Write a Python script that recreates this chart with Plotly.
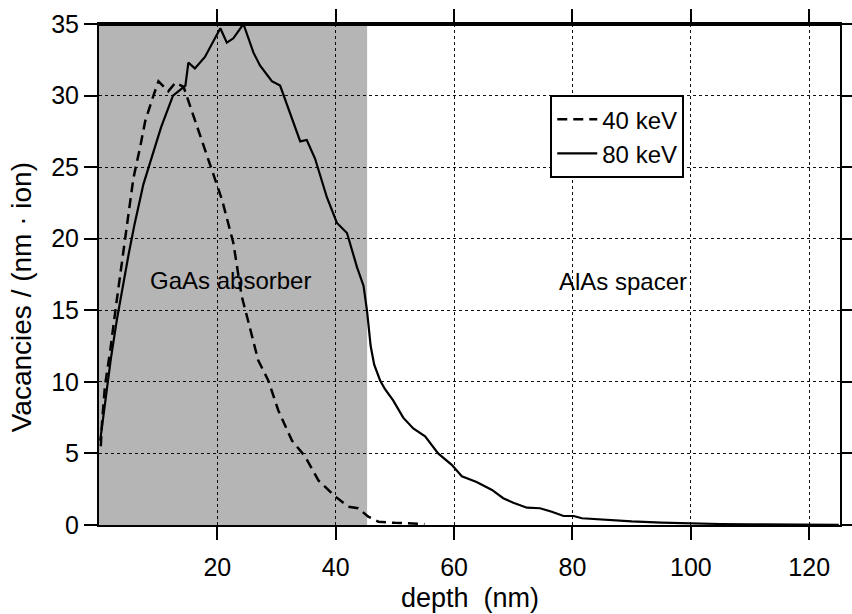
import plotly.graph_objects as go

# ---- data ----
depth_40 = [0.3, 0.5, 1.0, 1.9, 3.0, 4.5, 5.8, 7.0, 7.8, 9.2, 10.05, 11.7, 12.9, 14.3, 15.7, 17.4,
            19.1, 20.8, 22.7, 24.1, 25.3, 26.9, 28.6, 30.3, 32.6, 34.8, 37.1, 39.9, 42.1, 43.8,
            45.5, 47.2, 50.0, 52.5, 55.0]
vac_40 = [5.5, 7.1, 9.7, 12.2, 15.7, 20.4, 24.2, 26.5, 28.2, 30.0, 31.0, 30.3, 30.9, 30.6, 28.9, 26.8,
          24.7, 22.7, 19.7, 16.0, 14.1, 11.5, 10.1, 8.0, 5.9, 4.8, 3.1, 2.0, 1.28, 1.17,
          0.58, 0.23, 0.15, 0.1, 0.07]

depth_80 = [0.2, 1.0, 2.0, 3.0, 4.0, 5.0, 6.0, 7.5, 9.0, 10.5, 12.5, 14.6, 15.1, 16.2, 17.9, 20.5,
            21.6, 22.7, 24.4, 26.1, 27.2, 29.2, 30.6, 34.0, 35.1, 36.5, 38.5, 40.2, 41.9, 43.6,
            44.7, 45.3, 45.9, 46.5, 47.5, 48.3, 49.7, 51.4, 53.1, 55.1, 57.3, 59.6, 61.3, 63.8,
            66.4, 68.3, 70.0, 72.3, 74.5, 76.5, 78.5, 80.2, 81.6, 85.8, 90, 95, 100, 105, 110,
            115, 120, 125]
vac_80 = [5.9, 8.4, 11.6, 14.3, 16.7, 18.9, 21.0, 23.8, 25.8, 27.8, 30.0, 30.7, 32.3, 31.9, 32.7, 34.7,
          33.7, 34.0, 35.0, 33.0, 32.1, 31.0, 30.7, 26.8, 26.9, 25.6, 22.9, 21.1, 20.4, 18.0,
          16.7, 14.9, 12.5, 11.2, 10.1, 9.5, 8.7, 7.5, 6.75, 6.2, 5.0, 4.2, 3.4, 3.0,
          2.45, 1.87, 1.56, 1.21, 1.17, 0.93, 0.63, 0.63, 0.47, 0.35, 0.25, 0.17, 0.1, 0.07, 0.05,
          0.03, 0.02, 0.01]

absorber_end = 45.3
x_ticks = [20, 40, 60, 80, 100, 120]
y_ticks = [0, 5, 10, 15, 20, 25, 30, 35]

FONT = "Liberation Sans, Arial, Helvetica, sans-serif"

fig = go.Figure()
fig.add_trace(go.Scatter(x=depth_40, y=vac_40, mode="lines", name="40 keV",
                         line=dict(color="black", width=2.5, dash="10px,6px")))
fig.add_trace(go.Scatter(x=depth_80, y=vac_80, mode="lines", name="80 keV",
                         line=dict(color="black", width=2.2)))

# semi-transparent grey so the dotted grid shows through
fig.add_shape(type="rect", xref="x", yref="y", x0=0, x1=absorber_end, y0=0, y1=35,
              fillcolor="rgba(0,0,0,0.29)", line=dict(width=0), layer="between")
fig.add_shape(type="line", xref="paper", yref="paper", x0=0, x1=1, y0=1, y1=1,
              line=dict(color="black", width=4))

fig.add_annotation(x=22.3, y=17.1, xref="x", yref="y", text="GaAs absorber", showarrow=False,
                   font=dict(size=24, color="black", family=FONT))
fig.add_annotation(x=88.6, y=17.0, xref="x", yref="y", text="AlAs spacer", showarrow=False,
                   font=dict(size=24, color="black", family=FONT))
fig.add_annotation(x=0.5, y=-0.146, xref="paper", yref="paper", text="depth\u00a0\u00a0(nm)",
                   showarrow=False, yanchor="middle",
                   font=dict(size=27, color="black", family=FONT))
fig.add_annotation(x=-0.105, y=0.455, xref="paper", yref="paper",
                   text="Vacancies / (nm \u00b7 ion)", textangle=-90, showarrow=False,
                   xanchor="center", yanchor="middle",
                   font=dict(size=28, color="black", family=FONT))

fig.update_xaxes(range=[0, 125.2], tickvals=x_ticks, ticks="outside", ticklen=13, tickwidth=2,
                 tickcolor="black", showline=True, linecolor="black", linewidth=2, mirror="ticks",
                 showgrid=True, gridcolor="#111", gridwidth=1, griddash="dot", zeroline=False,
                 tickfont=dict(size=25, color="black", family=FONT), ticklabelstandoff=6,
                 automargin=False)
fig.update_yaxes(range=[0, 35], tickvals=y_ticks, ticks="outside", ticklen=13, tickwidth=2,
                 tickcolor="black", showline=True, linecolor="black", linewidth=2, mirror="ticks",
                 showgrid=True, gridcolor="#111", gridwidth=1, griddash="dot", zeroline=False,
                 tickfont=dict(size=25, color="black", family=FONT), automargin=False)

fig.update_layout(
    width=852, height=614,
    margin=dict(l=99, r=12, t=24, b=89, autoexpand=False),
    paper_bgcolor="white", plot_bgcolor="white",
    showlegend=True,
    legend=dict(x=0.609, y=0.858, xanchor="left", yanchor="top",
                bgcolor="white", bordercolor="black", borderwidth=2,
                font=dict(size=24, color="black", family=FONT),
                tracegroupgap=0, itemwidth=40),
)

fig.write_html("out.html")
